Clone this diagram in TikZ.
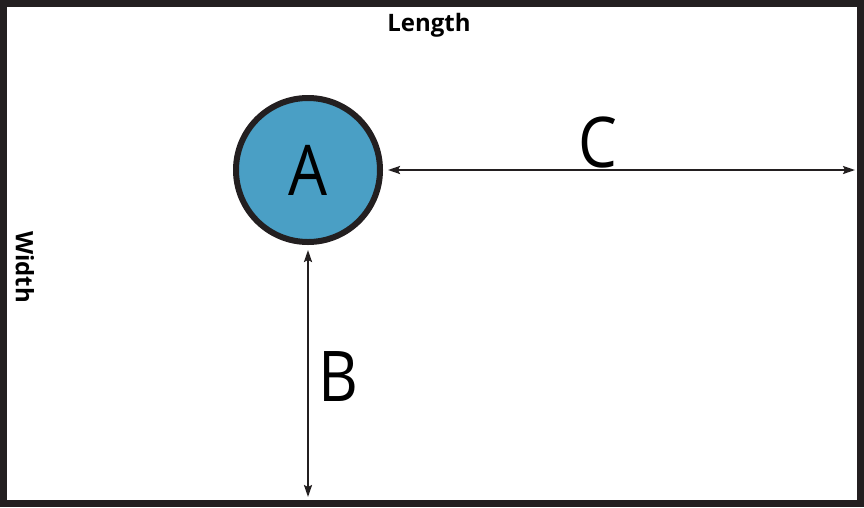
\documentclass[tikz,border=0pt]{standalone}
\usepackage{fontspec}
\setmainfont{Open Sans}
\usetikzlibrary{arrows.meta}
\definecolor{inkblack}{RGB}{35,31,32}
\definecolor{ballblue}{RGB}{74,159,197}
\begin{document}
\begin{tikzpicture}[x=1pt,y=-1pt]
 \tikzset{directed/.style={{Stealth[length=12pt,width=8pt,inset=2pt]}-{Stealth[length=12pt,width=8pt,inset=2pt]}, line width=2pt, color=inkblack}}
 \tikzset{bigletter/.style={font=\fontsize{70}{70}\selectfont, xscale=0.88}}
  \useasboundingbox (0,0) rectangle (864,507);
  \draw[line width=7pt, color=inkblack] (3.5,3.5) rectangle (860.5,503.5);
  \node[draw=inkblack, fill=ballblue, circle, line width=6pt, minimum size=144pt, inner sep=0pt, outer sep=8pt] (A) at (308,170) {};
  \node[bigletter] (ALABEL) at (A.center) {A};
  \coordinate (CEND) at (855,170);
  \coordinate (BEND) at (308,497);
  \draw[directed] (A.east) -- (CEND);
  \draw[directed] (A.south) -- (BEND);
  \node[bigletter] (C) at (598,142) {C};
  \node[bigletter] (B) at (338,377) {B};
  \node[font=\fontsize{24}{24}\selectfont\bfseries] (LENGTH) at (429,25) {Length};
  \node[font=\fontsize{24}{24}\selectfont\bfseries, rotate=-90] (WIDTH) at (25,267) {Width};
\end{tikzpicture}
\end{document}
